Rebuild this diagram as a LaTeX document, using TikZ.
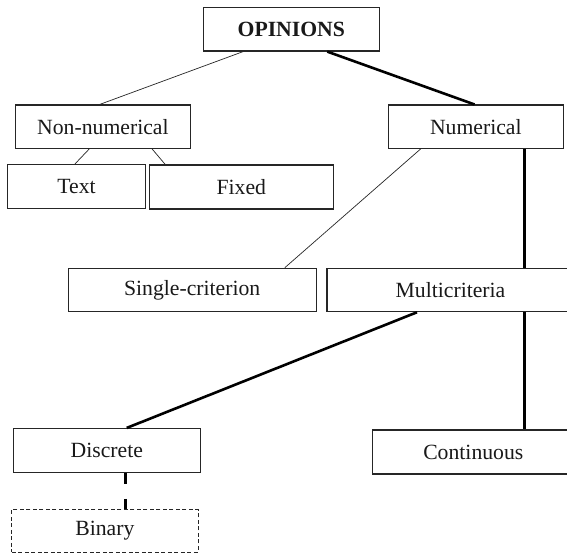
\documentclass[tikz,border=0pt]{standalone}
\usepackage{fontspec}
\setmainfont{Liberation Serif}
\usetikzlibrary{calc}
\begin{document}
\begin{tikzpicture}[x=1pt,y=-1pt,
  catbox/.style={draw=black!85,line width=1.1pt,inner sep=0pt,anchor=center,
    font=\fontsize{21.7}{24}\selectfont,text=black!90},
  minor/.style={draw=black!85,line width=0.7pt},
  major/.style={draw=black,line width=2.6pt},
  optional/.style={draw=black,line width=2.6pt,dash pattern=on 11pt off 15pt},
  optbox/.style={catbox,dash pattern=on 4pt off 2.5pt,line width=1pt}]
\useasboundingbox[fill=white] (0,0) rectangle (567,553);

% categories
\node[catbox,minimum width=176pt,minimum height=43.7pt,font=\fontsize{21.7}{24}\selectfont\bfseries]
  (op) at (291.3,29.2) {OPINIONS};
\node[catbox,minimum width=175.7pt,minimum height=43.3pt] (nn) at (102.9,126.7) {Non-numerical};
\node[catbox,minimum width=175pt,minimum height=43.3pt] (nu) at (475.8,126.7) {Numerical};
\node[catbox,minimum width=138.4pt,minimum height=44pt] (tx) at (76.5,186.5) {Text};
\node[catbox,minimum width=184pt,minimum height=44pt] (fx) at (241.3,187) {Fixed};
\node[catbox,minimum width=247.7pt,minimum height=43.4pt] (sc) at (192.2,290) {Single-criterion};
\node[catbox,minimum width=247pt,minimum height=43.4pt] (mc) at (450.5,290) {Multicriteria};
\node[catbox,minimum width=186.5pt,minimum height=43.8pt] (di) at (106.8,450.4) {Discrete};
\node[catbox,minimum width=201.4pt,minimum height=44pt] (co) at (473.3,452) {Continuous};
\node[optbox,minimum width=186.2pt,minimum height=42.7pt] (bi) at (104.9,530.7) {Binary};

% x position of the right-hand trunk
\coordinate (trunk) at (524.6,0);

% links
\draw[minor] ($(op.south west)!0.228!(op.south east)$) -- ($(nn.north west)!0.481!(nn.north east)$);
\draw[major] ($(op.south west)!0.703!(op.south east)$) -- ($(nu.north west)!0.493!(nu.north east)$);
\draw[minor] ($(nn.south west)!0.423!(nn.south east)$) -- ($(tx.north west)!0.489!(tx.north east)$);
\draw[minor] ($(nn.south west)!0.778!(nn.south east)$) -- ($(fx.north west)!0.089!(fx.north east)$);
\draw[minor] ($(nu.south west)!0.187!(nu.south east)$) -- ($(sc.north west)!0.872!(sc.north east)$);
\draw[major] (nu.south -| trunk) -- (mc.north -| trunk);
\draw[major] ($(mc.south west)!0.365!(mc.south east)$) -- ($(di.north west)!0.606!(di.north east)$);
\draw[major] (mc.south -| trunk) -- (co.north -| trunk);
\coordinate (bstem) at (125.5,0);
\draw[optional] (di.south -| bstem) -- (bi.north -| bstem);
\end{tikzpicture}
\end{document}
